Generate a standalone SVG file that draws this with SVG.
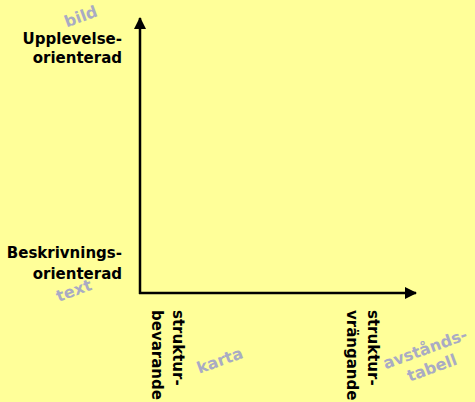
<svg xmlns="http://www.w3.org/2000/svg" width="475" height="402" viewBox="0 0 475 402">
<defs>
<style>
.lbl{font-family:"DejaVu Sans","Verdana",sans-serif;font-weight:bold;font-size:15px;fill:#000}
.gray{font-family:"DejaVu Sans","Verdana",sans-serif;font-weight:bold;font-size:16px;fill:#A9ABC4;text-anchor:middle}
.axis{stroke:#000;stroke-width:2.5;fill:none}
</style>
<marker id="ah" viewBox="0 0 12 12" refX="11" refY="6" markerWidth="12" markerHeight="12" markerUnits="userSpaceOnUse" orient="auto">
<path d="M0,0 L12,6 L0,12 Z" fill="#000"/>
</marker>
</defs>
<rect x="0" y="0" width="475" height="402" fill="#FFFF99"/>
<g id="connectors">
<line class="axis" x1="140" y1="294" x2="140" y2="18" marker-end="url(#ah)"/>
<line class="axis" x1="139" y1="293" x2="416" y2="293" marker-end="url(#ah)"/>
</g>
<g id="y-top">
<text class="lbl" text-anchor="end" x="122" y="44">Upplevelse-</text>
<text class="lbl" text-anchor="end" x="122" y="63">orienterad</text>
</g>
<g id="y-bottom">
<text class="lbl" text-anchor="end" x="122" y="258">Beskrivnings-</text>
<text class="lbl" text-anchor="end" x="122" y="279">orienterad</text>
</g>
<g id="x-left">
<text class="lbl" transform="translate(173,310) rotate(90)">struktur-</text>
<text class="lbl" transform="translate(152,310) rotate(90)">bevarande</text>
</g>
<g id="x-right">
<text class="lbl" transform="translate(368,310) rotate(90)">struktur-</text>
<text class="lbl" transform="translate(347,310) rotate(90)">vrängande</text>
</g>
<g id="bild"><text class="gray" transform="translate(81,17) rotate(-20)" y="5">bild</text></g>
<g id="text"><text class="gray" transform="translate(74,291) rotate(-20)" y="5">text</text></g>
<g id="karta"><text class="gray" transform="translate(220,361) rotate(-20)" y="5">karta</text></g>
<g id="avstandstabell">
<text class="gray" transform="translate(428,357) rotate(-20)" y="-3">avstånds-</text>
<text class="gray" transform="translate(428,357) rotate(-20)" y="17">tabell</text>
</g>
</svg>
